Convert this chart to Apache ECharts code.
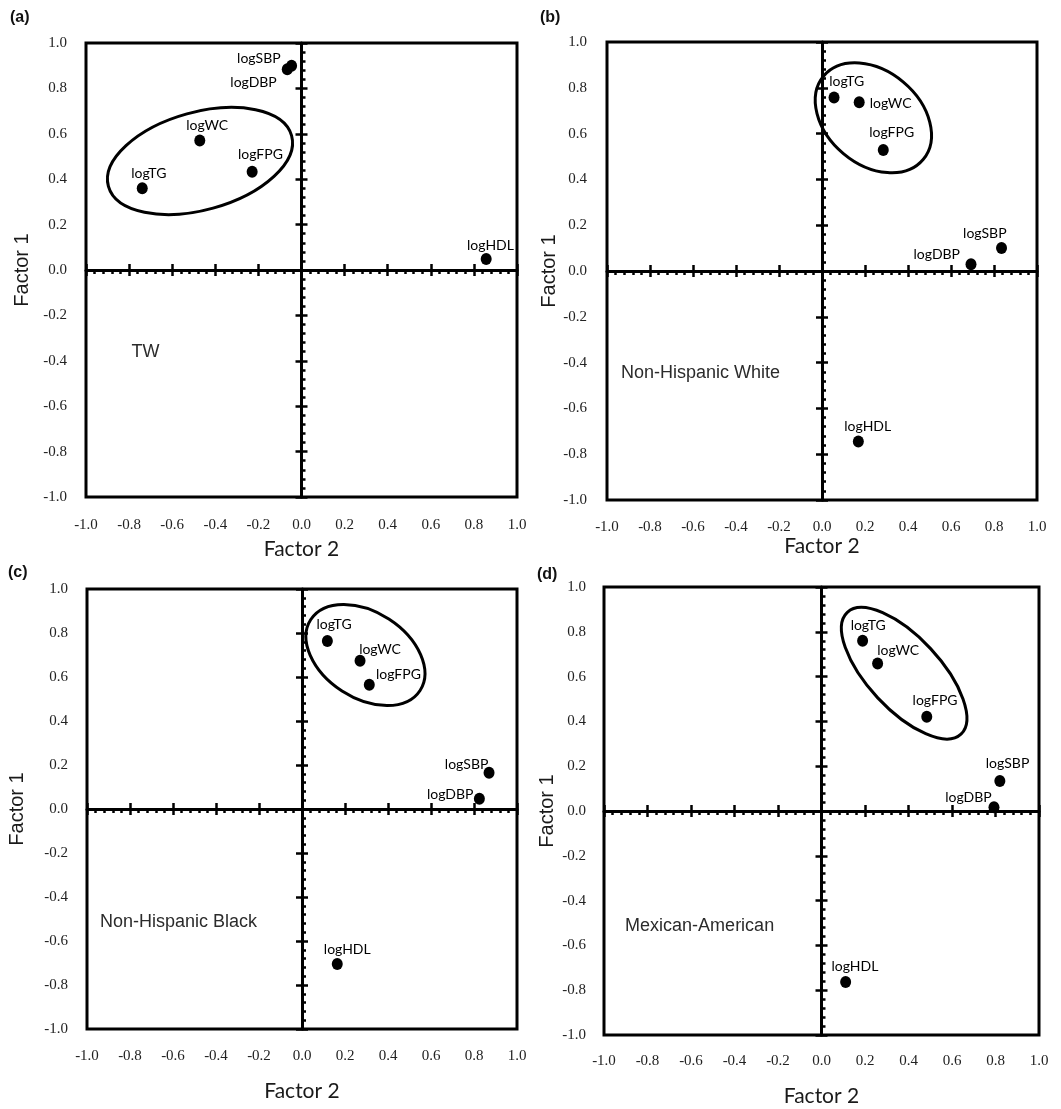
<!DOCTYPE html>
<html><head><meta charset="utf-8">
<script src="https://cdn.jsdelivr.net/npm/echarts@6/dist/echarts.min.js"></script>
<style>html,body{margin:0;padding:0;background:#fff}#c{width:1061px;height:1109px}</style>
</head><body><div id="c"></div>
<script>
// ---------------- DATA ----------------
const panelLetters = ['(a)', '(b)', '(c)', '(d)'];
const groupNames = ['TW', 'Non-Hispanic White', 'Non-Hispanic Black', 'Mexican-American'];
const variables = ['logSBP', 'logDBP', 'logWC', 'logFPG', 'logTG', 'logHDL'];
const tickLabels = ['-1.0', '-0.8', '-0.6', '-0.4', '-0.2', '0.0', '0.2', '0.4', '0.6', '0.8', '1.0'];
const xTitle = 'Factor 2';
const yTitle = 'Factor 1';

// loadings, ordered as `variables`
const factor2_TW  = [-0.046, -0.066, -0.472, -0.229, -0.739, 0.857];
const factor1_TW  = [ 0.900,  0.884,  0.570,  0.433,  0.360, 0.048];
const factor2_NHW = [ 0.835,  0.693,  0.173,  0.285,  0.056, 0.169];
const factor1_NHW = [ 0.100,  0.029,  0.737,  0.528,  0.758, -0.745];
const factor2_NHB = [ 0.870,  0.825,  0.270,  0.313,  0.118, 0.164];
const factor1_NHB = [ 0.165,  0.047,  0.674,  0.565,  0.764, -0.705];
const factor2_MA  = [ 0.820,  0.793,  0.258,  0.484,  0.189, 0.111];
const factor1_MA  = [ 0.134,  0.017,  0.658,  0.421,  0.760, -0.763];

// cluster ellipse: [centre F2, centre F1, semi-major, semi-minor, tilt in degrees]
const cluster_TW  = [-0.471, 0.480, 0.441, 0.227, 15.5];
const cluster_NHW = [ 0.239, 0.669, 0.302, 0.217, -40];
const cluster_NHB = [ 0.295, 0.700, 0.303, 0.200, -33];
const cluster_MA  = [ 0.380, 0.615, 0.383, 0.166, -47];

// group-name anchor in data units (left edge of text)
const groupNameAnchor = [[-0.789, -0.361], [-0.935, -0.445], [-0.940, -0.514], [-0.903, -0.513]];

const panelData = [
  { f2: factor2_TW,  f1: factor1_TW,  cluster: cluster_TW },
  { f2: factor2_NHW, f1: factor1_NHW, cluster: cluster_NHW },
  { f2: factor2_NHB, f1: factor1_NHB, cluster: cluster_NHB },
  { f2: factor2_MA,  f1: factor1_MA,  cluster: cluster_MA }
];

// ---------------- LAYOUT / STYLE ----------------
const grids = [
  { left: 86,  top: 43,  width: 431, height: 454 },
  { left: 607, top: 42,  width: 430, height: 458 },
  { left: 87,  top: 589, width: 430, height: 440 },
  { left: 604, top: 587, width: 435, height: 448 }
];
const xLabelMargin = [21, 20, 20, 19];
const yLabelMargin = [19, 20, 19, 18];
const xNameGap = [42, 36, 52, 51];
const yNameGap = [54, 44, 60, 47];
const letterPos = [[10, 10], [540, 10], [8, 565], [537, 567]];

// label placement per variable: [position, dx, dy]
const labelPlace = [
  [['left', -2.5, -7.4], ['left', -2, 13.4], ['top', 7.4, 1.3], ['top', 8.3, -1.7], ['top', 6.6, 1], ['top', 4.3, 2]],
  [['top', -16.7, 1.6], ['left', -2.5, -10.3], ['right', 2, 1], ['top', 8.4, -1.7], ['top', 12.7, 0.4], ['top', 9.4, 1]],
  [['left', 7.8, -8.7], ['left', 2.5, -3.7], ['top', 20, 4.6], ['right', -1.8, -10.4], ['top', 6.7, 0], ['top', 10, 1.3]],
  [['top', 7.7, -1], ['left', 6.2, -9.6], ['top', 20.6, 3.3], ['top', 8.3, -0.7], ['top', 5.6, 0.3], ['top', 9.3, 0.7]]
];

const tickFmt = v => tickLabels[Math.round((v + 1) / 0.2)];
const AX = '#000';
const serif = '"Liberation Serif", "Times New Roman", serif';

const xAxes = [], yAxes = [], series = [], graphics = [];

grids.forEach((g, gi) => {
  const xi = xAxes.length, yi = yAxes.length;
  const base = { type: 'value', min: -1, max: 1, interval: 0.2, gridIndex: gi, splitLine: { show: false } };
  xAxes.push(Object.assign({}, base, {
    position: 'bottom',
    axisLine: { show: true, onZero: true, onZeroAxisIndex: yi, lineStyle: { color: AX, width: 3 } },
    axisTick: { show: true, inside: false, length: 6, lineStyle: { color: AX, width: 2.5 } },
    minorTick: { show: true, splitNumber: 5, length: 4, lineStyle: { color: AX, width: 2.5 } },
    axisLabel: { show: false }
  }));
  xAxes.push(Object.assign({}, base, {
    position: 'bottom',
    axisLine: { show: false, onZero: true, onZeroAxisIndex: yi },
    axisTick: { show: true, inside: true, length: 6, lineStyle: { color: AX, width: 2.5 } },
    axisLabel: { show: false }
  }));
  xAxes.push(Object.assign({}, base, {
    position: 'bottom',
    axisLine: { show: false, onZero: false },
    axisTick: { show: false },
    axisLabel: { show: true, margin: xLabelMargin[gi], formatter: tickFmt, fontFamily: serif, fontSize: 15, color: '#222' },
    name: xTitle, nameLocation: 'middle', nameGap: xNameGap[gi],
    nameTextStyle: { fontFamily: 'Lato, "Open Sans", sans-serif', fontSize: 21, color: '#1a1a1a' }
  }));
  yAxes.push(Object.assign({}, base, {
    position: 'left',
    axisLine: { show: true, onZero: true, onZeroAxisIndex: xi, lineStyle: { color: AX, width: 3 } },
    axisTick: { show: true, inside: true, length: 6, lineStyle: { color: AX, width: 2.5 } },
    minorTick: { show: true, splitNumber: 5, length: 4, lineStyle: { color: AX, width: 2.5 } },
    axisLabel: { show: false }
  }));
  yAxes.push(Object.assign({}, base, {
    position: 'left',
    axisLine: { show: false, onZero: true, onZeroAxisIndex: xi },
    axisTick: { show: true, inside: false, length: 6, lineStyle: { color: AX, width: 2.5 } },
    axisLabel: { show: false }
  }));
  yAxes.push(Object.assign({}, base, {
    position: 'left',
    axisLine: { show: false, onZero: false },
    axisTick: { show: false },
    axisLabel: { show: true, margin: yLabelMargin[gi], formatter: tickFmt, fontFamily: serif, fontSize: 15, color: '#222' },
    name: yTitle, nameLocation: 'middle', nameGap: yNameGap[gi],
    nameTextStyle: { fontFamily: '"Liberation Sans", Arial, sans-serif', fontSize: 20, color: '#1a1a1a' }
  }));

  const pd = panelData[gi];
  series.push({
    type: 'custom', xAxisIndex: xi, yAxisIndex: yi, clip: false, silent: true, z: 3,
    data: [pd.cluster],
    encode: { x: 0, y: 1 },
    renderItem: (params, api) => {
      const c = api.coord([api.value(0), api.value(1)]);
      const rx = api.size([api.value(2), 0])[0];
      const ry = api.size([api.value(3), 0])[0];
      return {
        type: 'ellipse', x: c[0], y: c[1], rotation: api.value(4) * Math.PI / 180,
        shape: { cx: 0, cy: 0, rx: rx, ry: ry },
        style: { fill: null, stroke: '#000', lineWidth: 3 }
      };
    }
  });
  series.push({
    type: 'scatter', xAxisIndex: xi, yAxisIndex: yi, symbol: 'circle', symbolSize: [11, 12], z: 5,
    itemStyle: { color: '#000', opacity: 1 },
    label: { show: true, formatter: '{b}', fontFamily: 'Lato, "Open Sans", sans-serif', fontSize: 14, color: '#000', distance: 3, opacity: 1 },
    data: variables.map((n, i) => {
      const lp = labelPlace[gi][i];
      return { name: n, value: [pd.f2[i], pd.f1[i]], label: { position: lp[0], offset: [lp[1], lp[2]] } };
    })
  });
  series.push({
    type: 'scatter', xAxisIndex: xi, yAxisIndex: yi, symbolSize: 0, silent: true, z: 4,
    itemStyle: { opacity: 1 },
    label: { show: true, position: 'right', distance: 0, formatter: groupNames[gi], opacity: 1,
      fontFamily: '"Liberation Sans", Arial, sans-serif', fontSize: 18, color: '#2b2b2b' },
    data: [groupNameAnchor[gi]]
  });
  graphics.push({
    type: 'text', left: letterPos[gi][0], top: letterPos[gi][1],
    style: { text: panelLetters[gi], font: 'bold 16px "Liberation Sans", Arial, sans-serif', fill: '#111' }
  });
});

const chart = echarts.init(document.getElementById('c'), null, { renderer: 'canvas' });
chart.setOption({
  backgroundColor: '#fff',
  animation: false,
  grid: grids.map(g => Object.assign({ show: true, borderColor: '#000', borderWidth: 3, containLabel: false }, g)),
  xAxis: xAxes,
  yAxis: yAxes,
  graphic: graphics,
  series: series
});
</script>
</body></html>
